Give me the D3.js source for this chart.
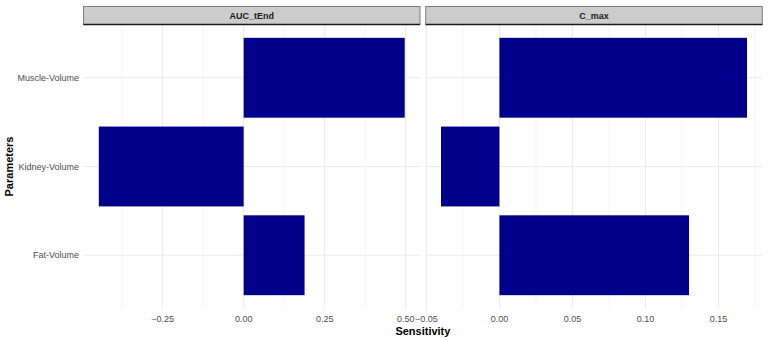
<!DOCTYPE html>
<html><head><meta charset="utf-8">
<script src="https://cdn.jsdelivr.net/npm/d3@7"></script>
<style>body{margin:0;background:#fff}text{font-family:"Liberation Sans",Arial,sans-serif}</style>
</head><body>
<svg id="c" width="768" height="340"></svg>
<script>
const parameters = ["Muscle-Volume", "Kidney-Volume", "Fat-Volume"];
const panels = ["AUC_tEnd", "C_max"];
const aucValues = [0.497, -0.447, 0.188];
const cmaxValues = [0.1695, -0.0400, 0.1298];
const aucTicks = [-0.25, 0.00, 0.25, 0.50];
const cmaxTicks = [-0.05, 0.00, 0.05, 0.10, 0.15];

const panelData = [
  {name: panels[0], values: aucValues, ticks: aucTicks, x0: 83.5, x1: 420},
  {name: panels[1], values: cmaxValues, ticks: cmaxTicks, x0: 425.7, x1: 762.3}
];
const svg = d3.select("#c");
const yTop = 24.5, yBot = 308.5;
const y = d3.scalePoint().domain(parameters).range([yTop, yBot]).padding(0.6);
const step = y.step();
const barH = step * 0.9;
const fmt = v => (v < 0 ? "\u2212" : "") + Math.abs(v).toFixed(2);

panelData.forEach(p => {
  const ext = d3.extent(p.values.concat([0]));
  const pad = (ext[1] - ext[0]) * 0.05;
  const x = d3.scaleLinear().domain([ext[0] - pad, ext[1] + pad]).range([p.x0, p.x1]);
  const g = svg.append("g");
  const minor = [];
  for (let i = 0; i < p.ticks.length - 1; i++) minor.push((p.ticks[i] + p.ticks[i+1]) / 2);
  const stepT = p.ticks[1] - p.ticks[0];
  minor.push(p.ticks[0] - stepT/2, p.ticks[p.ticks.length-1] + stepT/2);
  g.selectAll(".mn").data(minor.filter(v => v >= x.domain()[0] && v <= x.domain()[1])).enter().append("line")
    .attr("x1", d => x(d)).attr("x2", d => x(d)).attr("y1", yTop).attr("y2", yBot)
    .attr("stroke", "#ebebeb").attr("stroke-width", 0.55);
  g.selectAll(".mj").data(p.ticks).enter().append("line")
    .attr("x1", d => x(d)).attr("x2", d => x(d)).attr("y1", yTop).attr("y2", yBot)
    .attr("stroke", "#ebebeb").attr("stroke-width", 1.1);
  g.selectAll(".hy").data(parameters).enter().append("line")
    .attr("x1", p.x0).attr("x2", p.x1).attr("y1", d => y(d)).attr("y2", d => y(d))
    .attr("stroke", "#ebebeb").attr("stroke-width", 1.1);
  g.selectAll(".bar").data(parameters.map((k, i) => ({k, v: p.values[i]}))).enter().append("rect")
    .attr("x", d => Math.min(x(0), x(d.v))).attr("width", d => Math.abs(x(d.v) - x(0)))
    .attr("y", d => y(d.k) - barH/2).attr("height", barH)
    .attr("fill", "#00008b");
  g.append("rect").attr("x", p.x0).attr("y", 6.5).attr("width", p.x1 - p.x0).attr("height", 18)
    .attr("fill", "#cccccc").attr("stroke", "#7f7f7f").attr("stroke-width", 1);
  g.append("line").attr("x1", p.x0).attr("x2", p.x1).attr("y1", 24.5).attr("y2", 24.5)
    .attr("stroke", "#1a1a1a").attr("stroke-width", 1.3);
  g.append("text").attr("x", (p.x0 + p.x1)/2).attr("y", 18.5).attr("text-anchor", "middle")
    .attr("font-size", 9).attr("font-weight", "bold").attr("fill", "#1a1a1a").text(p.name);
  g.selectAll(".tl").data(p.ticks).enter().append("text")
    .attr("x", d => x(d)).attr("y", 321.5).attr("text-anchor", "middle")
    .attr("font-size", 9).attr("fill", "#4d4d4d").text(fmt);
});

svg.selectAll(".yl").data(parameters).enter().append("text")
  .attr("x", 79).attr("y", d => y(d) + 3.2).attr("text-anchor", "end")
  .attr("font-size", 9).attr("fill", "#4d4d4d").text(d => d);

svg.append("text").attr("x", 422.9).attr("y", 334.5).attr("text-anchor", "middle")
  .attr("font-size", 11).attr("font-weight", "bold").attr("fill", "#000").text("Sensitivity");
svg.append("text").attr("transform", "translate(12.5," + ((yTop+yBot)/2) + ") rotate(-90)")
  .attr("text-anchor", "middle").attr("font-size", 11).attr("font-weight", "bold").attr("fill", "#000").text("Parameters");
</script>
</body></html>
